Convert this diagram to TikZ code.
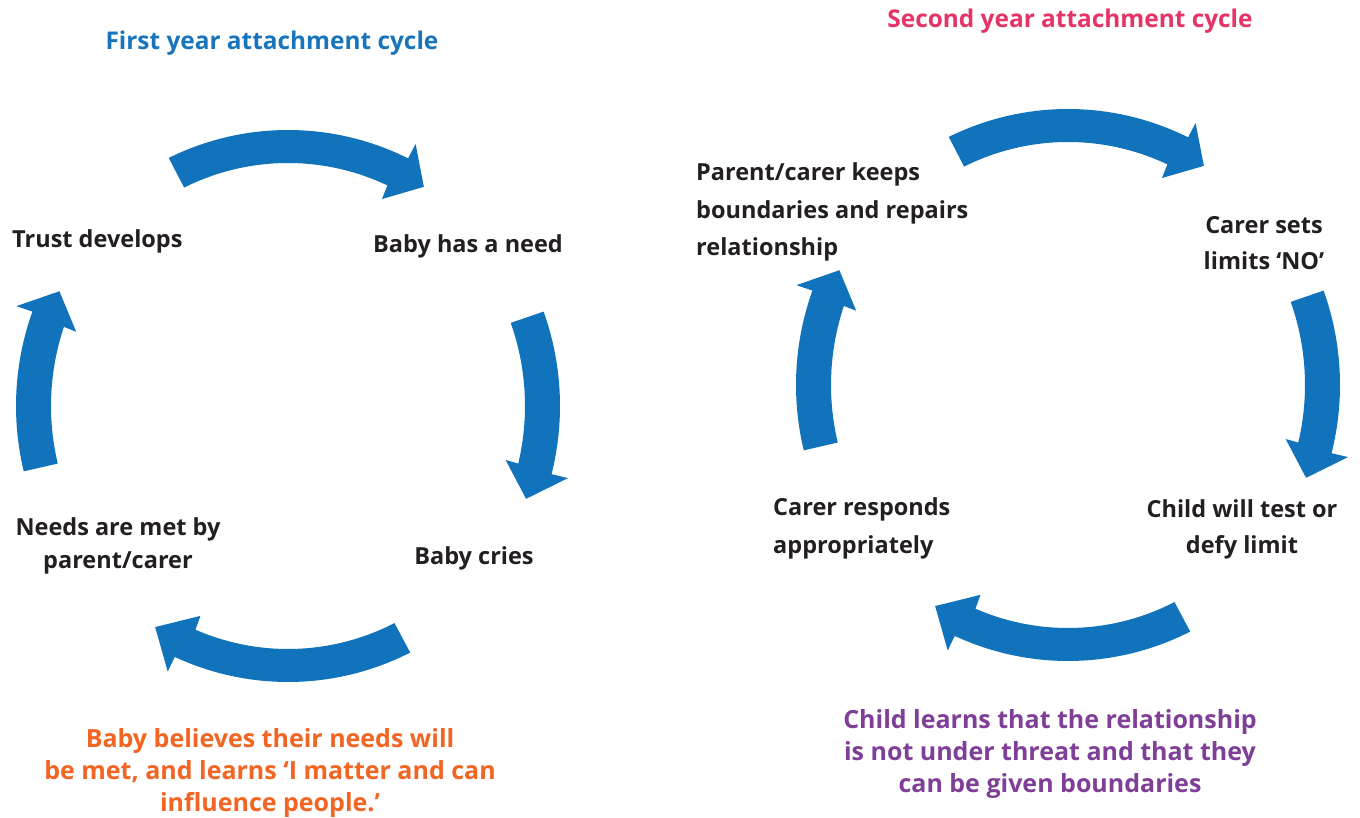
\documentclass[tikz,border=0pt]{standalone}
\usepackage{fontspec}
\setmainfont{Open Sans}
\definecolor{arrowblue}{RGB}{17,115,187}
\definecolor{titleblue}{RGB}{24,117,188}
\definecolor{titlepink}{RGB}{230,52,102}
\definecolor{txtorange}{RGB}{242,101,34}
\definecolor{txtpurple}{RGB}{127,63,152}
\definecolor{txtdark}{RGB}{35,31,32}
% #1 tail angle, #2 head-base angle (outer side), #3 head-base angle (inner side), #4 tip angle
\newcommand\cycarrow[4]{%
  \fill[arrowblue] (#1:272 and 276) arc[start angle=#1, end angle=#2, x radius=272, y radius=276]
    -- (#2:289 and 292) -- (#4:255 and 259) -- (#3:224 and 228) -- (#3:237 and 243)
    arc[start angle=#3, end angle=#1, x radius=237, y radius=243] -- cycle;}
\tikzset{
  lbl/.style={inner sep=0pt, text=txtdark, font=\fontsize{23.5}{36}\selectfont\bfseries},
  ttl/.style={inner sep=0pt, font=\fontsize{24.4}{30}\selectfont\bfseries},
  msg/.style={inner sep=0pt, align=center, font=\fontsize{25}{31.8}\selectfont\bfseries}
}
\begin{document}
\begin{tikzpicture}[x=1pt,y=1pt]
\useasboundingbox (0,0) rectangle (1360,817);
% left cycle
\begin{scope}[shift={(288,411)}]
  \cycarrow{116}{63.8}{65.2}{57.8}
  \cycarrow{20}{-14.3}{-13.7}{-21}
  \cycarrow{-63.3}{-114.6}{-113}{-121.4}
  \cycarrow{193.7}{160}{161}{153.7}
\end{scope}
% right cycle
\begin{scope}[shift={(1068,432)}]
  \cycarrow{116}{63.8}{65.2}{57.8}
  \cycarrow{20}{-14.3}{-13.7}{-21}
  \cycarrow{-63.3}{-114.6}{-113}{-121.4}
  \cycarrow{193.7}{160}{161}{153.7}
\end{scope}
% titles
\node[ttl, text=titleblue, anchor=base] (t1) at (272,767) {First year attachment cycle};
\node[ttl, text=titlepink, anchor=base] (t2) at (1070,789) {Second year attachment cycle};
% left cycle labels
\node[lbl, anchor=base west] (trust) at (12,569) {Trust develops};
\node[lbl, anchor=base west] (need) at (373,564) {Baby has a need};
\node[lbl, anchor=base] (cries) at (474,252) {Baby cries};
\node[lbl, anchor=base, align=center, font=\fontsize{23.5}{33}\selectfont\bfseries] (met) at (118,248) {Needs are met by\\parent/carer};
\node[msg, text=txtorange, anchor=base] (believe) at (270,6) {Baby believes their needs will\\be met, and learns ‘I matter and can\\influence people.’};
% right cycle labels
\node[lbl, anchor=base west, align=left, font=\fontsize{23.5}{37.5}\selectfont\bfseries] (keeps) at (696,561) {Parent/carer keeps\\boundaries and repairs\\relationship};
\node[lbl, anchor=base, align=center] (limits) at (1264,547) {Carer sets\\limits ‘NO’};
\node[lbl, anchor=base, align=center] (test) at (1242,263) {Child will test or\\defy limit};
\node[lbl, anchor=base west, align=left, font=\fontsize{23.5}{38}\selectfont\bfseries] (responds) at (773,263) {Carer responds\\appropriately};
\node[msg, text=txtpurple, anchor=base] (learns) at (1050,25) {Child learns that the relationship\\is not under threat and that they\\can be given boundaries};
\end{tikzpicture}
\end{document}
